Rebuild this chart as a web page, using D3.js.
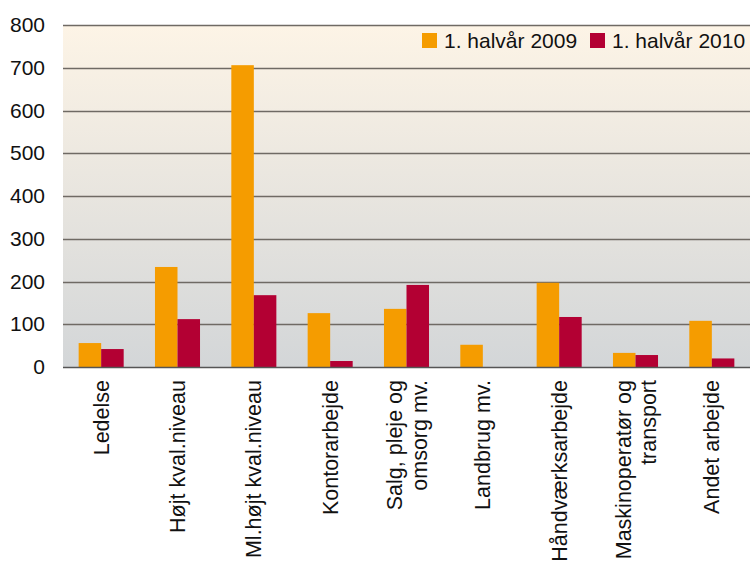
<!DOCTYPE html>
<html lang="da">
<head>
<meta charset="UTF-8">
<title>Halvår 2009 og 2010</title>
<style>
  body, html { margin: 0; padding: 0; background: #fff; }
  svg { display: block; font-family: "Liberation Sans", Arial, sans-serif; }
</style>
</head>
<body>
<script src="https://d3js.org/d3.v7.min.js"></script>
<script>
// categories (lines split where the original wraps)
var categories = [
  ["Ledelse"],
  ["Højt kval.niveau"],
  ["Ml.højt kval.niveau"],
  ["Kontorarbejde"],
  ["Salg, pleje og", "omsorg mv."],
  ["Landbrug mv."],
  ["Håndværksarbejde"],
  ["Maskinoperatør og", "transport"],
  ["Andet arbejde"]
];
var series = ["1. halvår 2009", "1. halvår 2010"];
var values2009 = [56, 234, 706, 126, 136, 52, 197, 33, 108];
var values2010 = [42, 112, 168, 14, 192, 0, 117, 28, 20];
var yTicks = [0, 100, 200, 300, 400, 500, 600, 700, 800];
var colors = ["#f59c00", "#b30033"];

var width = 750, height = 565;
var margin = {top: 25, right: 0, bottom: 198, left: 63};
var innerW = width - margin.left - margin.right,
    innerH = height - margin.top - margin.bottom;
var fontSize = "21px";

var svg = d3.select("body").append("svg")
    .attr("width", width)
    .attr("height", height);

var defs = svg.append("defs");
var grad = defs.append("linearGradient")
    .attr("id", "bg").attr("x1", 0).attr("y1", 0).attr("x2", 0).attr("y2", 1);
grad.append("stop").attr("offset", "0%").attr("stop-color", "#fdf4e6");
grad.append("stop").attr("offset", "100%").attr("stop-color", "#d3d6d8");

var g = svg.append("g").attr("transform", "translate(" + margin.left + "," + margin.top + ")");

g.append("rect")
    .attr("width", innerW).attr("height", innerH)
    .attr("fill", "url(#bg)");

var x = d3.scaleBand()
    .domain(d3.range(categories.length))
    .range([0, innerW])
    .paddingInner(0.41)
    .paddingOuter(0.205);

var xs = d3.scaleBand().domain([0, 1]).range([0, x.bandwidth()]);

var y = d3.scaleLinear().domain([0, 800]).range([innerH, 0]);

// gridlines
g.selectAll(".grid").data(yTicks.filter(function(d) { return d > 0; }))
  .enter().append("line")
    .attr("x1", 0).attr("x2", innerW)
    .attr("y1", function(d) { return Math.round(y(d)) + 0.5; })
    .attr("y2", function(d) { return Math.round(y(d)) + 0.5; })
    .attr("stroke", "#6f6a64").attr("stroke-width", 1.5);

// y axis labels
var yAxis = d3.axisLeft(y).tickValues(yTicks).tickSize(0).tickPadding(18);
var ya = g.append("g").call(yAxis);
ya.select(".domain").remove();
ya.selectAll("text").attr("font-size", fontSize).attr("fill", "#111")
  .attr("font-family", "'Liberation Sans', Arial, sans-serif");

// bars
var data = [values2009, values2010];
data.forEach(function(vals, si) {
  g.selectAll(".bar" + si).data(vals).enter().append("rect")
    .attr("x", function(d, i) { return x(i) + xs(si); })
    .attr("y", function(d) { return y(d); })
    .attr("width", xs.bandwidth())
    .attr("height", function(d) { return innerH - y(d); })
    .attr("fill", colors[si]);
});

// baseline
g.append("line")
  .attr("x1", 0).attr("x2", innerW)
  .attr("y1", innerH + 0.5).attr("y2", innerH + 0.5)
  .attr("stroke", "#555").attr("stroke-width", 1.3);

// category labels, rotated
var lineH = 25;
categories.forEach(function(lines, i) {
  var cx = x(i) + x.bandwidth() / 2;
  var t = g.append("text")
    .attr("transform", "translate(" + cx + "," + (innerH + 13) + ") rotate(-90)")
    .attr("text-anchor", "end")
    .attr("font-size", "21.5px")
    .attr("fill", "#111");
  lines.forEach(function(s, k) {
    var off = (k - (lines.length - 1) / 2) * lineH;
    t.append("tspan")
      .attr("x", 0)
      .attr("y", off)
      .attr("dy", "0.35em")
      .text(s);
  });
});

// legend
var legend = svg.append("g").attr("transform", "translate(422,33)");
var lx = [0, 168];
series.forEach(function(s, i) {
  var lg = legend.append("g").attr("transform", "translate(" + lx[i] + ",0)");
  lg.append("rect").attr("width", 15).attr("height", 15).attr("fill", colors[i]);
  lg.append("text").attr("x", 22).attr("y", 15)
    .attr("font-size", fontSize).attr("fill", "#111").text(s);
});
</script>
</body>
</html>
